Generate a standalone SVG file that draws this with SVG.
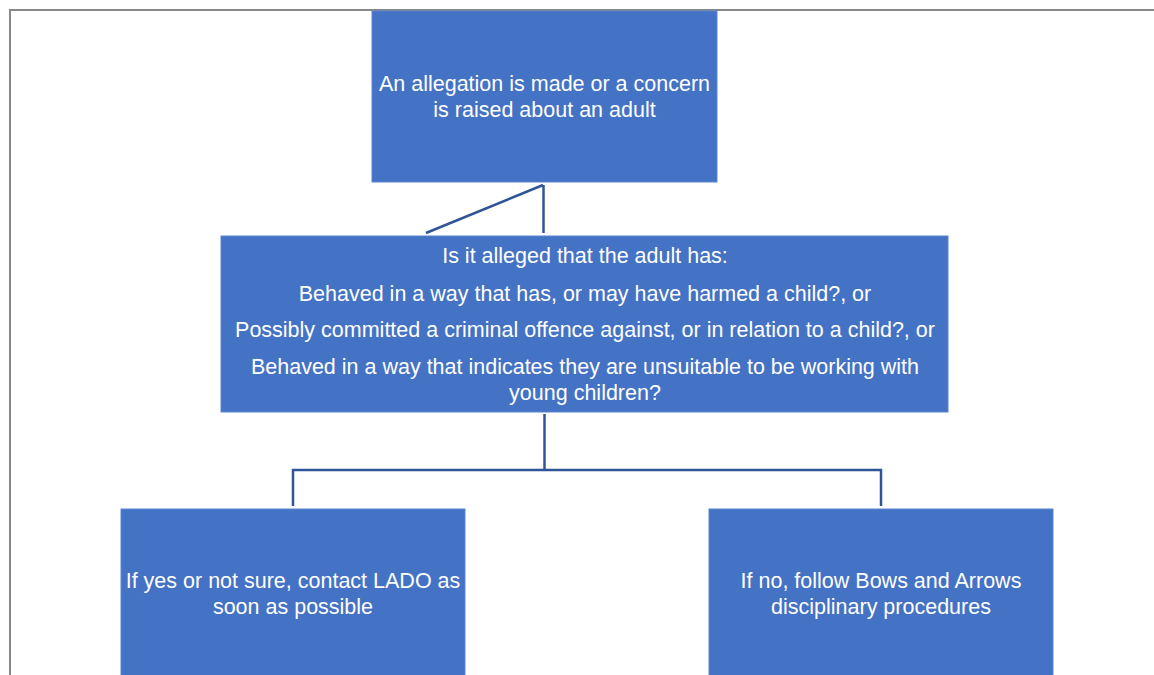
<svg xmlns="http://www.w3.org/2000/svg" width="1154" height="675" viewBox="0 0 1154 675">
<style>
.box{fill:#4472C4;stroke:#5B86D0;stroke-width:1}
.t{font-family:"Liberation Sans",Arial,sans-serif;font-size:21.5px;fill:#FFFFFF;text-anchor:middle}
.c{fill:none;stroke:#2F5597;stroke-width:2.5}
.frame{fill:none;stroke:#888888;stroke-width:2}
</style>
<rect width="1154" height="675" fill="#FFFFFF"/>
<path class="frame" d="M10,676 V10 H1155"/>
<g id="connectors">
<path class="c" d="M543.5,185 V233"/>
<path class="c" d="M543,185 L426,233"/>
<path class="c" d="M544.5,414 V470 M293,506 V470 H881 V506"/>
</g>
<g id="node-top">
<rect class="box" x="372" y="11" width="345" height="171"/>
<text class="t" x="544.5" y="91">An allegation is made or a concern</text>
<text class="t" x="544.5" y="117">is raised about an adult</text>
</g>
<g id="node-question">
<rect class="box" x="221" y="236" width="727" height="176"/>
<text class="t" x="585" y="263">Is it alleged that the adult has:</text>
<text class="t" x="585" y="301">Behaved in a way that has, or may have harmed a child?, or</text>
<text class="t" x="585" y="337">Possibly committed a criminal offence against, or in relation to a child?, or</text>
<text class="t" x="585" y="374">Behaved in a way that indicates they are unsuitable to be working with</text>
<text class="t" x="585" y="400">young children?</text>
</g>
<g id="node-yes">
<rect class="box" x="121" y="509" width="344" height="170"/>
<text class="t" x="293" y="588">If yes or not sure, contact LADO as</text>
<text class="t" x="293" y="614">soon as possible</text>
</g>
<g id="node-no">
<rect class="box" x="709" y="509" width="344" height="170"/>
<text class="t" x="881" y="588">If no, follow Bows and Arrows</text>
<text class="t" x="881" y="614">disciplinary procedures</text>
</g>
</svg>
